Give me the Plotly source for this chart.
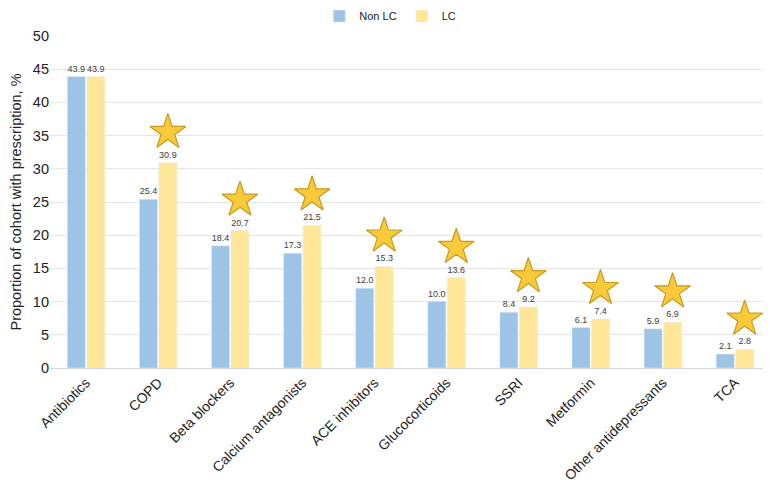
import plotly.graph_objects as go

categories = ["Antibiotics", "COPD", "Beta blockers", "Calcium antagonists", "ACE inhibitors",
              "Glucocorticoids", "SSRI", "Metformin", "Other antidepressants", "TCA"]
non_lc = [43.9, 25.4, 18.4, 17.3, 12.0, 10.0, 8.4, 6.1, 5.9, 2.1]
lc = [43.9, 30.9, 20.7, 21.5, 15.3, 13.6, 9.2, 7.4, 6.9, 2.8]
significant = [False, True, True, True, True, True, True, True, True, True]

idx = list(range(len(categories)))
bar_w = 0.25
fig = go.Figure()
fig.add_trace(go.Bar(name="Non LC", x=[i - 0.135 for i in idx], y=non_lc, width=bar_w,
                     marker_color="#9DC3E6",
                     text=[f"{v:.1f}" for v in non_lc], textposition="outside",
                     textfont=dict(size=9, color="#404040"), cliponaxis=False))
fig.add_trace(go.Bar(name="LC", x=[i + 0.135 for i in idx], y=lc, width=bar_w,
                     marker_color="#FFE699",
                     text=[f"{v:.1f}" for v in lc], textposition="outside",
                     textfont=dict(size=9, color="#404040"), cliponaxis=False))

star_x = [i + 0.135 for i, s in zip(idx, significant) if s]
star_y = [v + 4.6 for v, s in zip(lc, significant) if s]
fig.add_trace(go.Scatter(x=star_x, y=star_y, mode="markers", showlegend=False,
                         hoverinfo="skip", cliponaxis=False,
                         marker=dict(symbol="star", size=27, color="#F8C938",
                                     line=dict(color="#C99A1C", width=1.2))))

fig.update_layout(
    width=771, height=483,
    barmode="overlay",
    plot_bgcolor="white", paper_bgcolor="white",
    font=dict(family="Liberation Sans, Arial, sans-serif", color="#222222"),
    margin=dict(l=42, r=8, t=28, b=123, autoexpand=False),
    legend=dict(orientation="h", x=0.472, xanchor="center", y=1.06, yanchor="middle",
                font=dict(size=11), itemwidth=30),
    xaxis=dict(tickmode="array", tickvals=idx, ticktext=categories, range=[-0.5, 9.5],
               tickangle=-45, tickfont=dict(size=14), showgrid=False, automargin=False,
               showline=True, linecolor="#D9D9D9", ticks="", zeroline=False),
    yaxis=dict(range=[0, 50], dtick=5, showgrid=True, gridcolor="#E6E6E6", automargin=False,
               tickfont=dict(size=14.5), zeroline=False,
               title=dict(text="Proportion of cohort with prescription, %", font=dict(size=14.5),
                          standoff=8)),
)

fig.write_html("out.html")
